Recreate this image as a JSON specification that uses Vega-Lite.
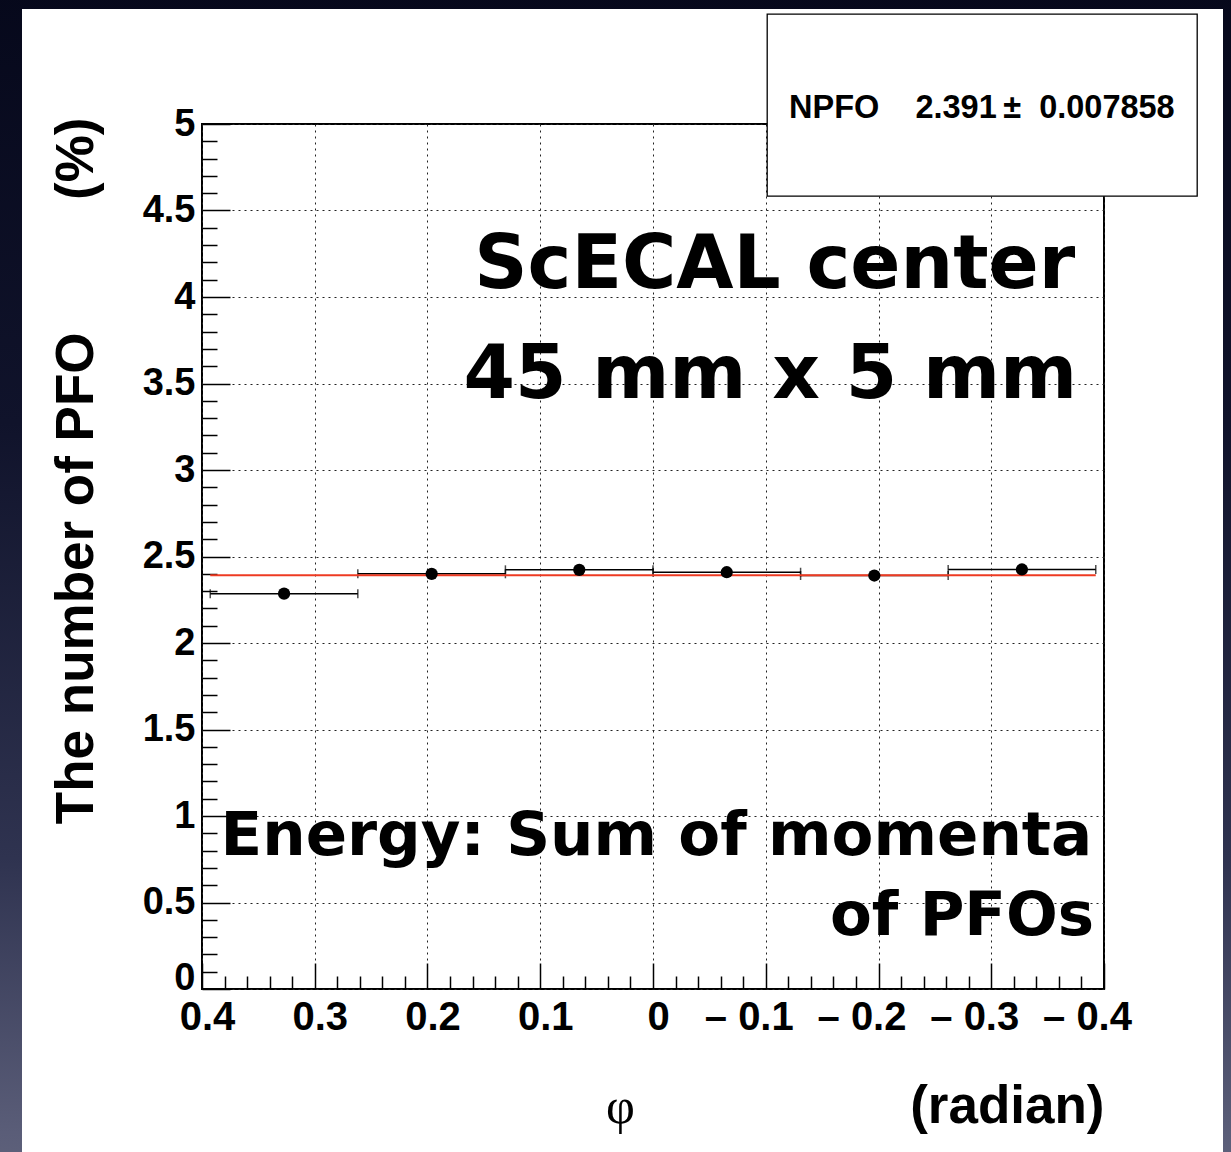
{
  "$schema": "https://vega.github.io/schema/vega-lite/v6.json",
  "width": 902,
  "height": 865,
  "autosize": {"type": "none"},
  "padding": {"left": 202, "top": 124, "right": 127, "bottom": 163},
  "background": "white",
  "config": {"view": {"stroke": "black", "strokeWidth": 2}},
  "datasets": {
    "points": [
      {"phi": 0.3272, "lo": 0.3927, "hi": 0.2618, "npfo": 2.285},
      {"phi": 0.1963, "lo": 0.2618, "hi": 0.1309, "npfo": 2.400},
      {"phi": 0.0654, "lo": 0.1309, "hi": 0.0, "npfo": 2.423},
      {"phi": -0.0654, "lo": 0.0, "hi": -0.1309, "npfo": 2.409},
      {"phi": -0.1963, "lo": -0.1309, "hi": -0.2618, "npfo": 2.390},
      {"phi": -0.3272, "lo": -0.2618, "hi": -0.3927, "npfo": 2.425}
    ],
    "fit": [
      {"from": 0.3927, "to": -0.3927, "npfo": 2.391, "fit": "NPFO\u00a0\u00a0\u00a0\u00a02.391\u2009\u00b1\u00a0\u00a00.007858", "frame": "slide"}
    ],
    "upper": [
      {"note": "ScECAL center", "phi": -0.3745, "npfo": 4.052},
      {"note": "45 mm x 5 mm", "phi": -0.3762, "npfo": 3.416}
    ],
    "lower": [
      {"note": "Energy: Sum of momenta", "phi": -0.3895, "npfo": 0.775},
      {"note": "of PFOs", "phi": -0.3913, "npfo": 0.312}
    ]
  },
  "layer": [
    {
      "data": {"name": "points"},
      "mark": {"type": "errorbar", "color": "black", "ticks": {"size": 9, "thickness": 1.5, "color": "black"}, "rule": {"strokeWidth": 1.5, "color": "black"}},
      "encoding": {
        "x": {"field": "lo", "type": "quantitative", "scale": {"domain": [-0.4, 0.4], "reverse": true, "nice": false, "zero": false}, "axis": null},
        "x2": {"field": "hi"},
        "y": {"field": "npfo", "type": "quantitative", "scale": {"domain": [0, 5], "nice": false, "zero": false}, "axis": null}
      }
    },
    {
      "data": {"name": "fit"},
      "mark": {"type": "rule", "strokeWidth": 2},
      "encoding": {
        "x": {"field": "from", "type": "quantitative", "scale": {"domain": [-0.4, 0.4], "reverse": true, "nice": false, "zero": false},
          "axis": {"orient": "bottom", "domain": false, "ticks": false, "labels": false, "grid": false,
            "title": "(radian)", "titleFont": "Liberation Sans", "titleFontWeight": "bold", "titleFontSize": 53, "titleColor": "black",
            "titleX": 902, "titleY": 133, "titleAlign": "right", "titleBaseline": "alphabetic", "titleAngle": 0}},
        "x2": {"field": "to"},
        "y": {"field": "npfo", "type": "quantitative", "scale": {"domain": [0, 5], "nice": false, "zero": false}, "axis": null},
        "color": {"field": "fit", "type": "nominal", "scale": {"range": ["#ee3a22"]},
          "legend": {"orient": "none", "legendX": 565, "legendY": -110, "title": null, "padding": 22,
            "fillColor": "white", "strokeColor": "black", "cornerRadius": 0,
            "symbolType": "circle", "symbolSize": 19044, "symbolOpacity": 0, "symbolStrokeWidth": 0,
            "labelOffset": -138, "labelFont": "Liberation Sans", "labelFontWeight": "bold", "labelFontSize": 32.5, "labelColor": "black", "labelLimit": 800,
            "encode": {"legend": {"update": {"strokeWidth": {"value": 1.3}}}, "labels": {"update": {"dy": {"value": 3}}}}}},
        "strokeDash": {"field": "frame", "type": "nominal", "scale": {"range": [[1, 0]]},
          "legend": {"orient": "none", "legendX": -202, "legendY": -137, "title": null, "padding": 610,
            "symbolType": "circle", "symbolSize": 625, "symbolOpacity": 0, "symbolStrokeWidth": 0,
            "labelOffset": -25, "labelExpr": "''", "labelFontSize": 10,
            "encode": {"legend": {"update": {
              "stroke": {"value": {"gradient": "linear", "x1": 0, "y1": 0, "x2": 0, "y2": 1,
                "stops": [{"offset": 0, "color": "#06081b"}, {"offset": 0.35, "color": "#10132b"}, {"offset": 0.7, "color": "#2f3350"}, {"offset": 0.92, "color": "#5a5d78"}, {"offset": 1, "color": "#65687f"}]}},
              "strokeWidth": {"value": 44}}}}}}
      }
    },
    {
      "data": {"name": "points"},
      "mark": {"type": "point", "filled": true, "shape": "circle", "size": 150, "color": "black", "opacity": 1},
      "encoding": {
        "x": {"field": "phi", "type": "quantitative", "scale": {"domain": [-0.4, 0.4], "reverse": true, "nice": false, "zero": false},
          "axis": {
            "orient": "bottom",
            "values": [0.4, 0.38, 0.36, 0.34, 0.32, 0.3, 0.28, 0.26, 0.24, 0.22, 0.2, 0.18, 0.16, 0.14, 0.12, 0.1, 0.08, 0.06, 0.04, 0.02, 0, -0.02, -0.04, -0.06, -0.08, -0.1, -0.12, -0.14, -0.16, -0.18, -0.2, -0.22, -0.24, -0.26, -0.28, -0.3, -0.32, -0.34, -0.36, -0.38, -0.4],
            "domain": false,
            "grid": true, "gridColor": "#222222", "gridDash": [2, 4], "gridWidth": 1,
            "gridOpacity": {"condition": {"test": "abs(datum.value*10 - round(datum.value*10)) < 0.001", "value": 1}, "value": 0},
            "ticks": true, "tickColor": "black", "tickWidth": 1.5,
            "tickSize": {"condition": {"test": "abs(datum.value*10 - round(datum.value*10)) < 0.001", "value": -26}, "value": -13},
            "labelExpr": "abs(datum.value*10 - round(datum.value*10)) > 0.001 ? '' : (datum.value < -0.001 ? '\u2013\u00a0' + format(-datum.value, '.1f') : (abs(datum.value) < 0.001 ? '0' : format(datum.value, '.1f')))",
            "labelFont": "Liberation Sans", "labelFontWeight": "bold", "labelFontSize": 40, "labelColor": "black",
            "labelPadding": 34, "labelOverlap": false, "labelFlush": false, "labelBound": false, "labelAlign": "center",
            "labelOffset": {"condition": {"test": "datum.value < -0.001", "value": -17}, "value": 5},
            "title": "\u03c6", "titleFont": "Liberation Serif", "titleFontWeight": "normal", "titleFontSize": 50, "titleColor": "black",
            "titleX": 418, "titleY": 133, "titleAlign": "center", "titleBaseline": "alphabetic", "titleAngle": 0
          }},
        "y": {"field": "npfo", "type": "quantitative", "scale": {"domain": [0, 5], "nice": false, "zero": false},
          "axis": {
            "orient": "left",
            "values": [0, 0.1, 0.2, 0.3, 0.4, 0.5, 0.6, 0.7, 0.8, 0.9, 1, 1.1, 1.2, 1.3, 1.4, 1.5, 1.6, 1.7, 1.8, 1.9, 2, 2.1, 2.2, 2.3, 2.4, 2.5, 2.6, 2.7, 2.8, 2.9, 3, 3.1, 3.2, 3.3, 3.4, 3.5, 3.6, 3.7, 3.8, 3.9, 4, 4.1, 4.2, 4.3, 4.4, 4.5, 4.6, 4.7, 4.8, 4.9, 5],
            "domain": false,
            "grid": true, "gridColor": "#222222", "gridDash": [2, 4], "gridWidth": 1,
            "gridOpacity": {"condition": {"test": "abs(datum.value*2 - round(datum.value*2)) < 0.001", "value": 1}, "value": 0},
            "ticks": true, "tickColor": "black", "tickWidth": 1.5,
            "tickSize": {"condition": {"test": "abs(datum.value*2 - round(datum.value*2)) < 0.001", "value": -28}, "value": -15},
            "labelExpr": "abs(datum.value*2 - round(datum.value*2)) < 0.001 ? '' + datum.value : ''",
            "labelFont": "Liberation Sans", "labelFontWeight": "bold", "labelFontSize": 38, "labelColor": "black",
            "labelPadding": 35, "labelOverlap": false, "labelFlush": false, "labelBound": false,
            "labelOffset": {"condition": {"test": "datum.value < 0.001", "value": -11}, "value": 0},
            "title": "The number of PFO\u00a0\u00a0\u00a0\u00a0\u00a0\u00a0\u00a0\u00a0\u00a0(%)", "titleFont": "Liberation Sans", "titleFontWeight": "bold", "titleFontSize": 53, "titleColor": "black",
            "titleX": -110, "titleY": -7, "titleAngle": 270, "titleAlign": "right", "titleBaseline": "alphabetic"
          }}
      }
    },
    {
      "data": {"name": "upper"},
      "mark": {"type": "text", "font": "DejaVu Sans", "fontWeight": "bold", "fontSize": 74, "align": "right", "baseline": "alphabetic", "color": "black"},
      "encoding": {
        "x": {"field": "phi", "type": "quantitative", "scale": {"domain": [-0.4, 0.4], "reverse": true, "nice": false, "zero": false}, "axis": null},
        "y": {"field": "npfo", "type": "quantitative", "scale": {"domain": [0, 5], "nice": false, "zero": false}, "axis": null},
        "text": {"field": "note"}
      }
    },
    {
      "data": {"name": "lower"},
      "mark": {"type": "text", "font": "DejaVu Sans", "fontWeight": "bold", "fontSize": 61, "align": "right", "baseline": "alphabetic", "color": "black"},
      "encoding": {
        "x": {"field": "phi", "type": "quantitative", "scale": {"domain": [-0.4, 0.4], "reverse": true, "nice": false, "zero": false}, "axis": null},
        "y": {"field": "npfo", "type": "quantitative", "scale": {"domain": [0, 5], "nice": false, "zero": false}, "axis": null},
        "text": {"field": "note"}
      }
    }
  ],
  "resolve": {"axis": {"x": "independent", "y": "independent"}}
}
